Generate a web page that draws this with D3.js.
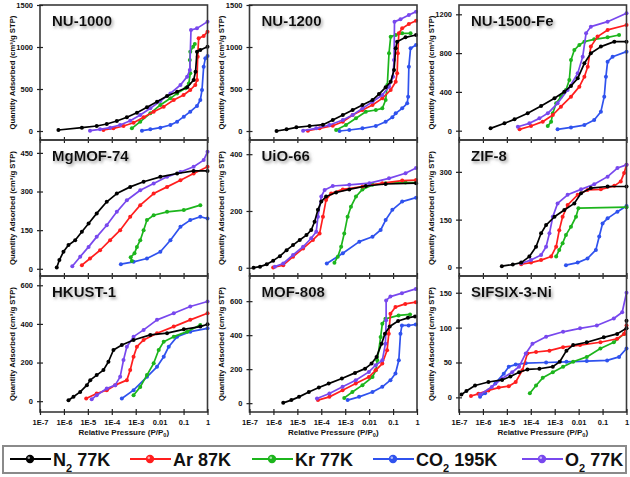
<!DOCTYPE html>
<html><head><meta charset="utf-8">
<script src="https://cdn.jsdelivr.net/npm/d3@7"></script>
<style>
body{margin:0;background:#fff}
text{font-family:Arial,"Liberation Sans",sans-serif;font-weight:bold;fill:#111}
</style>
</head><body>
<svg id="chart" width="630" height="477"></svg>
<script>
// ---------- axis / legend labels ----------
const pressureTicks = [1e-7, 1e-6, 1e-5, 1e-4, 1e-3, 1e-2, 1e-1, 1];
const pressureTickLabels = ["1E-7","1E-6","1E-5","1E-4","1E-3","0.01","0.1","1"];
const gasKeys = ["N2","Ar","Kr","CO2","O2"];
const gasLabels = [["N","2"," 77K"],["Ar 87K"],["Kr 77K"],["CO","2"," 195K"],["O","2"," 77K"]];
const gasColors = {N2:"#000000", Ar:"#ff1e1e", Kr:"#1cb51c", CO2:"#2f52ee", O2:"#7848ee"};
const drawOrder = ["CO2","Kr","Ar","O2","N2"];
const panelNames = ["NU-1000","NU-1200","NU-1500-Fe","MgMOF-74","UiO-66","ZIF-8","HKUST-1","MOF-808","SIFSIX-3-Ni"];
const yTickSets = [[0,500,1000,1500],[0,500,1000,1500],[0,400,800,1200],[0,150,300,450],[0,200,400],[0,150,300],[0,200,400,600],[0,200,400,600],[0,50,100,150]];
const yDomains = [[-107,1500],[-107,1500],[-96,1296],[-28,500],[-29,450],[-27,400],[-56,648],[-52,748],[-21,174]];

// ---------- data: [log10(P/P0), quantity adsorbed cm3/g STP] ----------
const nu1000_N2 = [[-6.23,12],[-5.25,40],[-4.63,60],[-4.21,83],[-3.79,119],[-3.37,163],[-2.95,218],[-2.53,282],[-2.11,349],[-1.69,417],[-1.27,468],[-0.85,520],[-0.58,607],[-0.5,706],[-0.44,944],[-0.30,964],[0,1004]];
const nu1000_Ar = [[-4.35,12],[-3.93,32],[-3.51,60],[-3.09,99],[-2.67,163],[-2.25,230],[-1.83,290],[-1.41,369],[-1.0,429],[-0.72,488],[-0.51,548],[-0.44,607],[-0.41,885],[-0.37,1103],[-0.16,1131],[0,1183]];
const nu1000_Kr = [[-3.16,32],[-2.81,111],[-2.39,210],[-1.97,310],[-1.55,389],[-1.27,448],[-0.92,508],[-0.78,567],[-0.72,687],[-0.74,845],[-0.72,944],[-0.60,1004],[-0.53,1036]];
const nu1000_CO2 = [[-2.74,4],[-2.39,20],[-1.97,40],[-1.55,71],[-1.27,111],[-0.99,171],[-0.72,230],[-0.44,298],[-0.30,369],[-0.23,488],[-0.16,766],[-0.09,865],[0,893]];
const nu1000_O2 = [[-4.91,4],[-4.49,20],[-4.07,40],[-3.65,71],[-3.23,123],[-2.81,190],[-2.39,270],[-1.97,357],[-1.55,448],[-1.13,548],[-0.85,647],[-0.74,726],[-0.69,1202],[-0.44,1222],[0,1302]];

const nu1200_N2 = [[-5.87,0],[-5.45,20],[-5.04,44],[-4.49,60],[-3.93,75],[-3.52,131],[-3.10,190],[-2.69,250],[-2.28,310],[-1.86,369],[-1.59,440],[-1.31,520],[-1.10,587],[-0.96,726],[-0.89,984],[-0.83,1063],[-0.48,1115],[-0.04,1143]];
const nu1200_Ar = [[-4.56,4],[-4.07,32],[-3.52,63],[-3.10,111],[-2.69,190],[-2.28,250],[-1.86,310],[-1.45,389],[-1.10,488],[-0.89,587],[-0.83,687],[-0.80,925],[-0.76,1163],[-0.62,1222],[-0.34,1274],[-0.04,1313]];
const nu1200_Kr = [[-3.38,12],[-2.97,71],[-2.55,151],[-2.14,230],[-1.72,250],[-1.45,270],[-1.31,369],[-1.24,548],[-1.17,925],[-1.10,1123],[-0.89,1143],[-0.62,1163],[-0.27,1163]];
const nu1200_CO2 = [[-3.24,0],[-2.83,12],[-2.28,32],[-1.72,60],[-1.31,111],[-1.03,163],[-0.89,210],[-0.62,270],[-0.41,329],[-0.37,409],[-0.34,766],[-0.27,984],[-0.04,1024]];
const nu1200_O2 = [[-4.76,4],[-4.21,32],[-3.66,71],[-3.10,131],[-2.69,190],[-2.28,270],[-1.86,349],[-1.45,429],[-1.17,528],[-1.0,647],[-0.96,845],[-0.94,1302],[-0.69,1329],[-0.34,1381],[-0.04,1421]];

const nu1500_N2 = [[-5.68,24],[-5.10,76],[-4.68,117],[-4.13,179],[-3.57,254],[-3.01,334],[-2.60,402],[-2.32,461],[-2.04,540],[-1.76,695],[-1.49,798],[-1.07,867],[-0.51,918],[0,918]];
const nu1500_Ar = [[-4.47,14],[-3.99,48],[-3.50,93],[-3.08,162],[-2.74,248],[-2.32,351],[-1.97,454],[-1.76,557],[-1.62,660],[-1.49,867],[-1.21,970],[-0.79,1039],[0,1090]];
const nu1500_Kr = [[-3.29,48],[-3.15,93],[-3.08,179],[-2.94,282],[-2.74,351],[-2.53,420],[-2.39,523],[-2.32,729],[-2.18,832],[-1.97,884],[-1.76,918],[-1.35,942],[-0.79,963],[-0.31,987]];
const nu1500_CO2 = [[-2.88,14],[-2.32,34],[-1.76,58],[-1.35,110],[-1.07,196],[-0.93,351],[-0.86,557],[-0.79,712],[-0.58,763],[0,815]];
const nu1500_O2 = [[-4.54,41],[-4.06,76],[-3.64,127],[-3.29,179],[-2.88,282],[-2.46,420],[-2.04,591],[-1.83,763],[-1.69,1004],[-1.49,1073],[-0.79,1124],[0,1210]];

const mgmof_N2 = [[-6.30,5],[-6.19,34],[-6.02,66],[-5.81,92],[-5.53,111],[-5.25,144],[-4.97,176],[-4.63,215],[-4.21,260],[-3.79,292],[-3.23,318],[-2.67,338],[-1.97,357],[-1.27,370],[-0.58,380],[0,380]];
const mgmof_Ar = [[-5.25,14],[-4.91,40],[-4.49,72],[-4.07,111],[-3.65,150],[-3.23,202],[-2.81,247],[-2.25,292],[-1.69,318],[-1.13,344],[-0.58,370],[0,396]];
const mgmof_Kr = [[-3.16,30],[-3.21,45],[-3.05,60],[-2.95,85],[-2.81,111],[-2.67,150],[-2.53,189],[-2.25,208],[-1.69,221],[-0.99,228],[-0.30,247]];
const mgmof_CO2 = [[-3.62,18],[-3.09,27],[-2.53,40],[-1.97,66],[-1.55,111],[-1.13,163],[-0.72,189],[-0.30,202],[0,195]];
const mgmof_O2 = [[-5.65,10],[-5.32,47],[-4.97,85],[-4.63,124],[-4.21,169],[-3.79,221],[-3.37,266],[-2.81,305],[-2.25,331],[-1.69,357],[-1.13,376],[-0.58,396],[-0.16,422],[0,454]];

const uio_N2 = [[-6.83,0],[-6.56,4],[-6.28,12],[-6.01,25],[-5.73,41],[-5.45,62],[-5.18,80],[-4.90,98],[-4.62,115],[-4.42,133],[-4.28,162],[-4.14,204],[-4.0,233],[-3.80,251],[-3.38,265],[-2.83,276],[-2.14,288],[-1.31,295],[-0.04,298]];
const uio_Ar = [[-6.01,1],[-5.59,9],[-5.18,39],[-4.76,68],[-4.35,98],[-4.07,121],[-3.93,180],[-3.80,239],[-3.59,262],[-3.10,276],[-2.28,286],[-1.45,298],[-0.62,307],[-0.04,309]];
const uio_Kr = [[-3.45,18],[-3.31,39],[-3.17,74],[-3.04,121],[-2.90,180],[-2.76,215],[-2.55,251],[-2.28,276],[-1.86,292],[-1.31,298],[-0.48,300],[-0.04,300]];
const uio_CO2 = [[-3.77,15],[-3.10,51],[-2.41,92],[-1.86,109],[-1.52,133],[-1.31,168],[-1.03,204],[-0.62,233],[-0.04,247]];
const uio_O2 = [[-5.94,4],[-5.59,15],[-5.18,45],[-4.76,74],[-4.42,104],[-4.21,127],[-4.14,180],[-4.0,251],[-3.86,274],[-3.52,288],[-2.83,292],[-1.99,298],[-1.17,315],[-0.48,333],[-0.04,351]];

const zif_N2 = [[-5.21,4],[-4.75,9],[-4.40,15],[-4.06,34],[-3.78,65],[-3.57,107],[-3.36,133],[-3.01,159],[-2.60,180],[-2.18,201],[-1.90,233],[-1.49,249],[-0.79,254],[0,254]];
const zif_Ar = [[-4.40,10],[-3.99,15],[-3.57,23],[-3.15,34],[-2.94,65],[-2.81,117],[-2.67,159],[-2.46,196],[-2.04,228],[-1.63,243],[-1.07,245],[-0.51,256],[-0.24,270],[-0.10,296],[0,322]];
const zif_Kr = [[-2.94,34],[-2.81,55],[-2.67,76],[-2.53,102],[-2.32,128],[-2.11,159],[-2.01,186],[0,189]];
const zif_CO2 = [[-2.53,7],[-2.04,15],[-1.63,28],[-1.28,55],[-1.14,97],[-1.0,138],[-0.79,154],[-0.38,175],[0,193]];
const zif_O2 = [[-4.40,13],[-3.99,23],[-3.57,39],[-3.36,65],[-3.22,107],[-3.08,159],[-2.88,201],[-2.46,228],[-1.90,245],[-1.35,261],[-0.79,285],[-0.38,312],[0,322]];

const hkust_N2 = [[-5.81,5],[-5.60,23],[-5.32,48],[-5.04,83],[-4.90,109],[-4.63,135],[-4.35,161],[-4.14,204],[-3.93,265],[-3.58,291],[-3.09,317],[-2.39,343],[-1.69,352],[-0.99,372],[-0.30,386],[0,398]];
const hkust_Ar = [[-5.07,14],[-4.63,40],[-4.21,57],[-3.86,83],[-3.37,109],[-3.23,161],[-3.09,230],[-2.95,282],[-2.67,317],[-2.11,352],[-1.41,386],[-0.72,421],[0,455]];
const hkust_Kr = [[-3.09,31],[-2.81,74],[-2.53,135],[-2.25,196],[-2.04,265],[-1.83,308],[-1.41,334],[-0.85,360],[-0.30,395]];
const hkust_CO2 = [[-3.58,14],[-3.09,57],[-2.53,126],[-2.11,178],[-1.83,230],[-1.62,282],[-1.27,334],[-0.72,360],[0,377]];
const hkust_O2 = [[-4.84,10],[-4.63,31],[-4.21,66],[-3.86,83],[-3.65,126],[-3.51,213],[-3.37,282],[-3.09,334],[-2.67,369],[-2.11,421],[-1.41,455],[-0.72,490],[0,516]];

const mof808_N2 = [[-5.59,2],[-5.25,18],[-4.93,37],[-4.52,66],[-4.10,92],[-3.69,115],[-3.14,145],[-2.59,178],[-2.17,203],[-1.90,233],[-1.69,272],[-1.48,350],[-1.34,408],[-1.14,451],[-0.79,483],[-0.38,502],[-0.08,510]];
const mof808_Ar = [[-4.14,18],[-3.66,37],[-3.11,76],[-2.56,115],[-2.01,154],[-1.73,193],[-1.45,233],[-1.25,311],[-1.18,408],[-1.11,526],[-0.90,565],[-0.49,584],[-0.05,594]];
const mof808_Kr = [[-3.04,31],[-2.70,66],[-2.28,106],[-1.86,154],[-1.72,193],[-1.66,252],[-1.52,389],[-1.45,467],[-1.32,496],[-0.77,516],[-0.29,522]];
const mof808_CO2 = [[-2.90,18],[-2.42,37],[-1.86,66],[-1.45,96],[-1.11,135],[-0.90,174],[-0.76,252],[-0.69,408],[-0.63,457],[-0.35,457],[-0.05,463]];
const mof808_O2 = [[-4.18,27],[-3.66,57],[-3.11,96],[-2.56,135],[-2.01,184],[-1.73,223],[-1.45,252],[-1.32,350],[-1.29,487],[-1.29,604],[-1.11,627],[-0.63,647],[-0.05,672]];

const sifsix_N2 = [[-6.90,4],[-6.69,9],[-6.33,17],[-5.77,22],[-5.20,25],[-4.85,30],[-4.49,36],[-4.14,40],[-3.64,41],[-3.08,44],[-2.79,51],[-2.51,67],[-2.23,75],[-1.66,79],[-0.95,86],[-0.39,91],[0,99],[0,110]];
const sifsix_Ar = [[-6.50,2],[-6.19,5],[-5.77,10],[-5.34,14],[-4.92,16],[-4.63,22],[-4.35,39],[-4.14,63],[-3.78,65],[-3.22,67],[-2.65,72],[-1.94,75],[-1.09,79],[-0.39,84],[-0.10,91],[0,103]];
const sifsix_Kr = [[-4.04,6],[-3.78,17],[-3.50,28],[-3.08,36],[-2.65,44],[-2.23,51],[-1.66,58],[-1.09,70],[-0.53,79],[-0.10,91]];
const sifsix_CO2 = [[-6.12,1],[-5.91,6],[-5.48,20],[-5.13,34],[-4.92,44],[-4.63,47],[-4.21,49],[-3.36,50],[-2.51,51],[-1.66,52],[-0.81,53],[-0.31,58],[0,70]];
const sifsix_O2 = [[-6.12,4],[-5.63,15],[-5.20,27],[-4.78,36],[-4.49,44],[-4.21,63],[-3.93,77],[-3.36,87],[-2.65,94],[-1.94,99],[-1.24,103],[-0.53,113],[-0.18,122],[0,150]];

const panelData = [
  {N2:nu1000_N2, Ar:nu1000_Ar, Kr:nu1000_Kr, CO2:nu1000_CO2, O2:nu1000_O2},
  {N2:nu1200_N2, Ar:nu1200_Ar, Kr:nu1200_Kr, CO2:nu1200_CO2, O2:nu1200_O2},
  {N2:nu1500_N2, Ar:nu1500_Ar, Kr:nu1500_Kr, CO2:nu1500_CO2, O2:nu1500_O2},
  {N2:mgmof_N2, Ar:mgmof_Ar, Kr:mgmof_Kr, CO2:mgmof_CO2, O2:mgmof_O2},
  {N2:uio_N2, Ar:uio_Ar, Kr:uio_Kr, CO2:uio_CO2, O2:uio_O2},
  {N2:zif_N2, Ar:zif_Ar, Kr:zif_Kr, CO2:zif_CO2, O2:zif_O2},
  {N2:hkust_N2, Ar:hkust_Ar, Kr:hkust_Kr, CO2:hkust_CO2, O2:hkust_O2},
  {N2:mof808_N2, Ar:mof808_Ar, Kr:mof808_Kr, CO2:mof808_CO2, O2:mof808_O2},
  {N2:sifsix_N2, Ar:sifsix_Ar, Kr:sifsix_Kr, CO2:sifsix_CO2, O2:sifsix_O2}
];

// ---------- layout ----------
const colX = [40, 249.5, 459];
const plotW = 167.5;
const rowY = [5, 140, 276];
const rowH = [135, 136, 136];

const svg = d3.select("#chart");
const defs = svg.append("defs");
const f = defs.append("filter").attr("id","shadow").attr("x","-20%").attr("y","-40%").attr("width","150%").attr("height","200%");
f.append("feDropShadow").attr("dx",1.5).attr("dy",2).attr("stdDeviation",1.6).attr("flood-color","#888").attr("flood-opacity",0.8);

panelNames.forEach((name, i) => {
  const c = i % 3, r = Math.floor(i / 3);
  const x0 = colX[c], y0 = rowY[r], h = rowH[r];
  const x = d3.scaleLog().domain([1e-7, 1]).range([x0, x0 + plotW]);
  const y = d3.scaleLinear().domain(yDomains[i]).range([y0 + h, y0]);
  const g = svg.append("g");

  // series
  const line = d3.line().x(d => x(Math.pow(10, d[0]))).y(d => y(d[1]));
  drawOrder.forEach(k => {
    const data = panelData[i][k];
    g.append("path").datum(data).attr("d", line)
      .attr("fill","none").attr("stroke", gasColors[k]).attr("stroke-width",1.7)
      .attr("stroke-linejoin","round");
    g.append("g").selectAll("circle").data(data).join("circle")
      .attr("cx", d => x(Math.pow(10, d[0]))).attr("cy", d => y(d[1]))
      .attr("r", 2).attr("fill", gasColors[k]);
  });

  // frame
  g.append("rect").attr("x", x0).attr("y", y0).attr("width", plotW).attr("height", h)
    .attr("fill","none").attr("stroke","#3a3a3a").attr("stroke-width",1.6);

  // y axis
  const ya = g.append("g").attr("transform", `translate(${x0},0)`)
    .call(d3.axisLeft(y).tickValues(yTickSets[i]).tickFormat(d3.format("d")).tickSize(3).tickPadding(4));
  ya.select(".domain").remove();
  ya.selectAll(".tick line").attr("x1",3).attr("x2",-3).attr("stroke","#222").attr("stroke-width",1.2);
  ya.selectAll(".tick text").style("font-size","7.5px").style("font-family","Arial,'Liberation Sans',sans-serif").style("font-weight","bold").attr("fill","#111");

  // x axis
  const xa = g.append("g").attr("transform", `translate(0,${y0 + h})`)
    .call(d3.axisBottom(x).tickValues(pressureTicks).tickSize(3).tickPadding(5)
      .tickFormat((d, j) => r === 2 ? pressureTickLabels[j] : ""));
  xa.select(".domain").remove();
  xa.selectAll(".tick line").attr("y1",-3).attr("y2",3).attr("stroke","#222").attr("stroke-width",1.2);
  xa.selectAll(".tick text").style("font-size","7.5px").style("font-family","Arial,'Liberation Sans',sans-serif").style("font-weight","bold").attr("fill","#111");

  // title
  g.append("text").attr("x", x0 + 12).attr("y", y0 + 21).style("font-size","15px")
    .attr("filter","url(#shadow)").text(name);

  // y label
  g.append("text").attr("transform", `translate(${x0 - 28},${y0 + h / 2}) rotate(-90)`)
    .attr("text-anchor","middle").attr("dy","0.35em").style("font-size","7.7px")
    .text("Quantity Adsorbed (cm\u00B3/g STP)");

  // x label (bottom row)
  if (r === 2) {
    const t = g.append("text").attr("x", x0 + plotW / 2).attr("y", 435)
      .attr("text-anchor","middle").style("font-size","8px");
    t.append("tspan").text("Relative Pressure (P/P");
    t.append("tspan").attr("dy", 2).style("font-size","5.5px").text("0");
    t.append("tspan").attr("dy", -2).text(")");
  }
});

// ---------- legend ----------
const leg = svg.append("g");
leg.append("rect").attr("x",3).attr("y",446).attr("width",623).attr("height",27)
  .attr("fill","none").attr("stroke","#8a8a8a").attr("stroke-width",2);
const legX = [10, 130, 252, 373, 522];
gasKeys.forEach((k, i) => {
  const lx = legX[i];
  leg.append("line").attr("x1", lx).attr("x2", lx + 41).attr("y1",459).attr("y2",459)
    .attr("stroke", gasColors[k]).attr("stroke-width",2.2);
  leg.append("circle").attr("cx", lx + 20).attr("cy",459).attr("r",4.2).attr("fill", gasColors[k]);
  leg.append("circle").attr("cx", lx + 18.8).attr("cy",457.8).attr("r",1.3).attr("fill","#fff").attr("opacity",0.6);
  const t = leg.append("text").attr("x", lx + 43).attr("y",466).style("font-size","18px");
  const parts = gasLabels[i];
  if (parts.length === 1) t.text(parts[0]);
  else {
    t.append("tspan").text(parts[0]);
    t.append("tspan").attr("dy",6).style("font-size","11px").text(parts[1]);
    t.append("tspan").attr("dy",-6).text(parts[2]);
  }
});
</script>
</body></html>
